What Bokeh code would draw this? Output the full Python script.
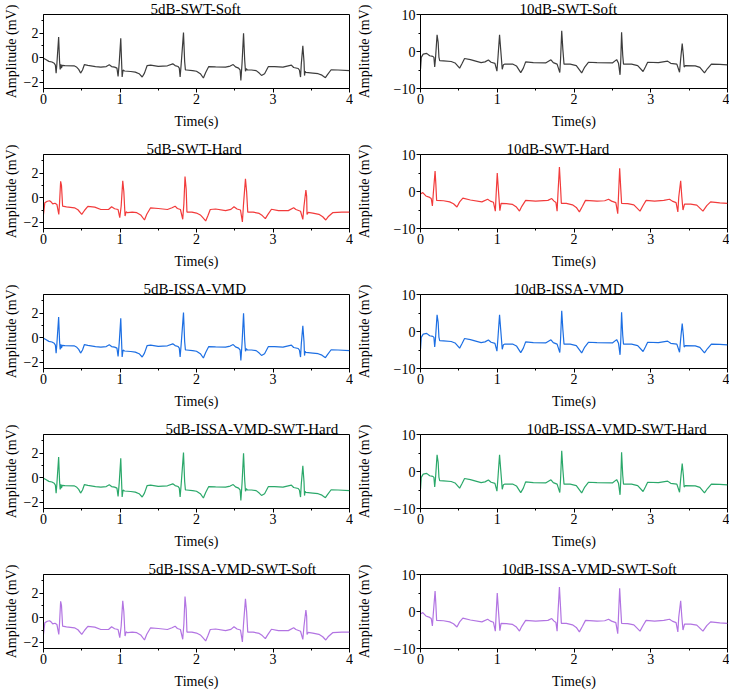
from bokeh.plotting import figure
from bokeh.layouts import column, row
from bokeh.models import Range1d, FixedTicker
from bokeh.embed import file_html
from bokeh.resources import INLINE

# ---- denoised ECG traces (time in s, amplitude in mV) ----
# 5 dB input, trace family A
t_5a = [0.00, 0.03, 0.07, 0.11, 0.14, 0.155, 0.165, 0.175, 0.198, 0.21, 0.218, 0.228, 0.235, 0.245,
        0.28, 0.40, 0.43, 0.46, 0.485, 0.51, 0.535, 0.58, 0.68, 0.75, 0.82, 0.86, 0.89, 0.93, 0.96,
        0.975, 0.99, 1.01, 1.02, 1.028, 1.04, 1.06, 1.14, 1.20, 1.25, 1.29, 1.32, 1.355, 1.40, 1.50,
        1.62, 1.69, 1.72, 1.76, 1.775, 1.786, 1.80, 1.83, 1.845, 1.855, 1.87, 1.95, 2.00, 2.05, 2.09,
        2.12, 2.16, 2.25, 2.38, 2.44, 2.48, 2.51, 2.55, 2.57, 2.58, 2.595, 2.615, 2.63, 2.64, 2.65,
        2.665, 2.72, 2.78, 2.82, 2.85, 2.89, 2.94, 3.02, 3.13, 3.24, 3.27, 3.33, 3.345, 3.36, 3.37,
        3.39, 3.405, 3.412, 3.42, 3.43, 3.52, 3.59, 3.64, 3.685, 3.71, 3.76, 3.85, 4.00]
v_5a = [-0.05, -0.15, -0.30, -0.35, -0.45, -0.60, -1.25, -0.50, 1.68, -0.30, -0.95, -0.55, -0.85, -0.62,
        -0.64, -0.66, -0.75, -0.95, -1.25, -1.00, -0.56, -0.62, -0.72, -0.77, -0.72, -0.58, -0.72, -0.77, -0.85,
        -1.52, -0.40, 1.58, -0.20, -1.57, -1.00, -1.08, -1.12, -1.17, -1.30, -1.57, -1.25, -0.64, -0.60, -0.70,
        -0.66, -0.50, -0.64, -0.72, -0.85, -1.57, -0.50, 2.03, -0.30, -1.00, -1.00, -1.05, -1.10, -1.30, -1.65,
        -1.20, -0.72, -0.75, -0.77, -0.68, -0.56, -0.75, -0.85, -1.00, -1.84, -0.50, 1.98, -0.20, -1.10, -0.90,
        -1.00, -1.00, -1.05, -1.25, -1.44, -1.30, -0.72, -0.72, -0.77, -0.60, -0.80, -0.88, -1.00, -1.57, -0.50,
        0.96, -0.30, -1.45, -1.10, -1.20, -1.25, -1.30, -1.42, -1.62, -1.40, -0.98, -1.00, -1.05]

# 5 dB input, trace family B
t_5b = [0.00, 0.017, 0.05, 0.08, 0.10, 0.12, 0.15, 0.175, 0.20, 0.21, 0.224, 0.235, 0.25, 0.30, 0.405,
        0.45, 0.50, 0.54, 0.58, 0.67, 0.75, 0.85, 0.89, 0.93, 0.975, 0.997, 1.015, 1.036, 1.05, 1.066,
        1.08, 1.10, 1.16, 1.22, 1.27, 1.32, 1.35, 1.40, 1.50, 1.62, 1.68, 1.72, 1.75, 1.79, 1.82, 1.835,
        1.85, 1.865, 1.875, 1.94, 2.00, 2.05, 2.08, 2.12, 2.15, 2.18, 2.25, 2.38, 2.45, 2.49, 2.53, 2.575,
        2.60, 2.615, 2.64, 2.655, 2.67, 2.74, 2.82, 2.86, 2.90, 2.93, 2.98, 3.07, 3.20, 3.27, 3.30, 3.36,
        3.39, 3.405, 3.43, 3.44, 3.445, 3.46, 3.52, 3.60, 3.65, 3.69, 3.72, 3.78, 3.90, 4.00]
v_5b = [-1.36, -0.42, -0.29, -0.25, -0.35, -0.50, -0.45, -0.55, -1.36, -0.40, 1.33, 1.00, -0.69, -0.74, -0.82,
        -0.98, -1.36, -1.00, -0.70, -0.77, -0.96, -0.96, -0.74, -0.90, -0.96, -1.62, -0.70, 1.36, 0.50, -1.49,
        -1.15, -1.22, -1.17, -1.22, -1.40, -1.81, -1.35, -0.82, -0.88, -0.96, -0.82, -0.69, -0.88, -0.96, -1.75, -0.50,
        1.71, 0.70, -1.17, -1.17, -1.25, -1.40, -1.60, -1.89, -1.45, -0.96, -0.92, -1.05, -0.95, -0.74, -0.92, -1.00,
        -1.97, -0.50, 1.52, 0.50, -1.17, -1.17, -1.28, -1.45, -1.70, -1.40, -0.94, -1.05, -1.05, -0.82, -0.96, -1.10,
        -1.76, -0.70, 0.62, 0.10, -1.36, -1.20, -1.25, -1.35, -1.55, -1.81, -1.55, -1.22, -1.17, -1.17]

# 10 dB input, trace family A
t_10a = [0.00, 0.01, 0.035, 0.08, 0.12, 0.16, 0.175, 0.185, 0.195, 0.216, 0.23, 0.24, 0.25, 0.30, 0.40,
         0.45, 0.51, 0.54, 0.574, 0.65, 0.79, 0.84, 0.884, 0.92, 0.97, 0.996, 1.01, 1.03, 1.045, 1.065,
         1.08, 1.10, 1.20, 1.25, 1.306, 1.34, 1.37, 1.47, 1.63, 1.70, 1.73, 1.78, 1.815, 1.825, 1.84, 1.855,
         1.87, 1.95, 2.03, 2.10, 2.14, 2.19, 2.30, 2.50, 2.556, 2.58, 2.60, 2.61, 2.62, 2.635, 2.645, 2.75,
         2.83, 2.90, 2.93, 2.96, 3.10, 3.22, 3.26, 3.34, 3.375, 3.39, 3.41, 3.425, 3.435, 3.45, 3.58, 3.64,
         3.70, 3.74, 3.79, 3.90, 4.00]
v_10a = [-4.8, -1.6, -0.7, -0.5, -1.15, -1.3, -1.6, -4.2, -2.0, 4.5, 2.5, -1.5, -2.5, -2.55, -2.7,
         -3.1, -4.5, -3.3, -1.9, -2.2, -3.0, -2.8, -2.3, -2.9, -3.2, -5.3, -1.5, 4.5, 0.5, -4.8,
         -3.6, -3.4, -3.4, -3.9, -5.7, -4.5, -2.8, -3.0, -3.1, -2.25, -3.0, -3.4, -5.7, -2.0, 5.6, 0.5,
         -3.4, -3.4, -3.8, -5.8, -4.2, -2.9, -3.0, -3.1, -2.2, -3.2, -6.3, -2.0, 5.2, -1.0, -3.4, -3.4,
         -3.8, -5.4, -4.2, -2.9, -3.0, -2.6, -3.2, -3.4, -5.6, -2.0, 2.15, -1.0, -4.2, -3.8, -3.9, -4.3,
         -5.8, -4.6, -3.4, -3.5, -3.6]

# 10 dB input, trace family B
t_10b = [0.00, 0.03, 0.07, 0.12, 0.14, 0.155, 0.165, 0.19, 0.20, 0.21, 0.30, 0.38, 0.43, 0.475, 0.51,
         0.552, 0.65, 0.80, 0.875, 0.91, 0.95, 0.975, 0.985, 1.00, 1.015, 1.034, 1.05, 1.12, 1.20, 1.25,
         1.29, 1.32, 1.37, 1.50, 1.66, 1.71, 1.74, 1.765, 1.78, 1.79, 1.81, 1.825, 1.835, 1.90, 1.98, 2.03,
         2.07, 2.11, 2.15, 2.30, 2.40, 2.45, 2.49, 2.545, 2.57, 2.58, 2.595, 2.61, 2.62, 2.70, 2.78, 2.86,
         2.90, 2.94, 3.05, 3.17, 3.245, 3.28, 3.33, 3.353, 3.365, 3.39, 3.405, 3.42, 3.44, 3.52, 3.60, 3.68,
         3.73, 3.78, 3.90, 4.00]
v_10b = [-0.7, -0.3, -1.2, -1.6, -1.9, -3.9, -1.0, 5.5, 2.0, -2.4, -2.5, -2.8, -3.3, -4.2, -2.8,
         -1.8, -2.3, -2.8, -2.1, -2.6, -2.9, -5.3, -1.0, 5.0, 0.5, -5.2, -3.2, -3.3, -3.5, -4.2,
         -5.3, -4.0, -2.4, -2.6, -2.4, -1.9, -2.6, -3.0, -5.3, -1.0, 6.6, 1.0, -3.2, -3.2, -3.6, -4.3,
         -5.5, -4.0, -2.4, -2.6, -2.5, -2.1, -2.6, -3.0, -6.0, -1.0, 6.3, 0.5, -3.2, -3.3, -3.6, -5.3,
         -3.8, -2.4, -2.6, -2.4, -2.1, -2.6, -3.0, -5.5, -1.5, 2.9, -1.5, -5.0, -3.4, -3.4, -3.7, -5.3,
         -3.8, -2.8, -3.1, -3.2]

# panel titles, left column (5 dB) and right column (10 dB)
titles_5 = ["5dB-SWT-Soft", "5dB-SWT-Hard", "5dB-ISSA-VMD", "5dB-ISSA-VMD-SWT-Hard", "5dB-ISSA-VMD-SWT-Soft"]
titles_10 = ["10dB-SWT-Soft", "10dB-SWT-Hard", "10dB-ISSA-VMD", "10dB-ISSA-VMD-SWT-Hard", "10dB-ISSA-VMD-SWT-Soft"]
traces_5 = [(t_5a, v_5a), (t_5b, v_5b), (t_5a, v_5a), (t_5a, v_5a), (t_5b, v_5b)]
traces_10 = [(t_10a, v_10a), (t_10b, v_10b), (t_10a, v_10a), (t_10a, v_10a), (t_10b, v_10b)]
colors = ["#3d3d3d", "#f23b3b", "#1d6fe3", "#2ba86a", "#b274e2"]

FONT = "Liberation Serif"
FRAME_H = 75
TOP = 13
ROW_BOTTOM = [52, 52, 52, 52, 45]
# title offset from the left edge of each frame, px
title_off_5 = [107, 103, 100, 122, 105]
title_off_10 = [99, 86, 93, 106, 81]


def panel(t, v, color, title, title_off, left_col, bottom):
    if left_col:
        width, b_left, b_right = 353, 40, 4
        yr = (-2.5, 3.5)
        ticks, minor = [-2, 0, 2], [-1, 1, 3]
        overrides = {-2: "\u22122", 0: "0", 2: "2"}
        lab_stand = 2
    else:
        width, b_left, b_right = 376, 64, 2
        yr = (-10, 10)
        ticks, minor = [-10, 0, 10], [-5, 5]
        overrides = {-10: "\u221210", 0: "0", 10: "10"}
        lab_stand = 19
    height = TOP + FRAME_H + bottom
    p = figure(width=width, height=height, x_range=Range1d(0, 4), y_range=Range1d(*yr),
               min_border_left=b_left, min_border_right=b_right,
               min_border_top=TOP, min_border_bottom=bottom,
               title=title, toolbar_location=None, output_backend="svg")
    p.title.text_font = FONT
    p.title.text_font_size = "15px"
    p.title.text_font_style = "normal"
    p.title.text_color = "black"
    p.title.align = "left"
    p.title.offset = title_off
    p.title.standoff = -4
    p.line(t, v, line_color=color, line_width=1.2)
    p.xgrid.visible = False
    p.ygrid.visible = False
    p.outline_line_color = "black"
    p.outline_line_width = 1
    p.xaxis.ticker = FixedTicker(ticks=[0, 1, 2, 3, 4], minor_ticks=[0.5, 1.5, 2.5, 3.5])
    p.yaxis.ticker = FixedTicker(ticks=ticks, minor_ticks=minor)
    p.yaxis.major_label_overrides = overrides
    p.xaxis.axis_label = "Time(s)"
    p.yaxis.axis_label = "Amplitude (mV)"
    for ax in (p.xaxis[0], p.yaxis[0]):
        ax.axis_line_color = "black"
        ax.major_tick_line_color = "black"
        ax.minor_tick_line_color = "black"
        ax.major_tick_out = 4
        ax.major_tick_in = 0
        ax.minor_tick_out = 2
        ax.minor_tick_in = 0
        ax.major_label_text_font = FONT
        ax.major_label_text_font_size = "14px"
        ax.major_label_text_color = "black"
        ax.axis_label_text_font = FONT
        ax.axis_label_text_font_size = "14px"
        ax.axis_label_text_font_style = "normal"
        ax.axis_label_text_color = "black"
        ax.major_label_standoff = 1
    p.xaxis.axis_label_standoff = 7
    p.yaxis.axis_label_standoff = lab_stand
    return p


rows = []
for i in range(5):
    left = panel(*traces_5[i], colors[i], titles_5[i], title_off_5[i], True, ROW_BOTTOM[i])
    right = panel(*traces_10[i], colors[i], titles_10[i], title_off_10[i], False, ROW_BOTTOM[i])
    rows.append(row(left, right))

layout = column(*rows)
open("out.html", "w").write(file_html(layout, INLINE))
